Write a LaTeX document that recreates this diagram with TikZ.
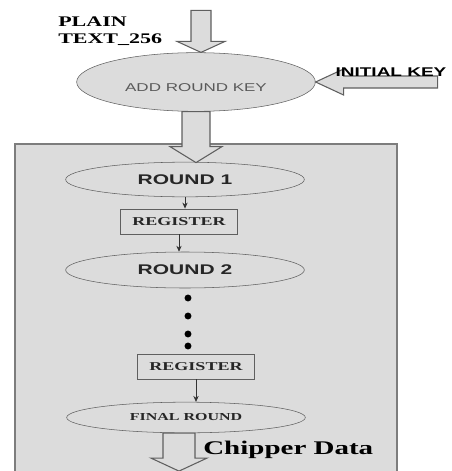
\documentclass[tikz,border=0pt]{standalone}
\usepackage{fontspec}
\setmainfont{Liberation Serif}
\setsansfont{Liberation Sans}
\usetikzlibrary{shapes.geometric,arrows.meta}
\definecolor{roundgray}{RGB}{220,220,220}
\definecolor{roundline}{RGB}{95,95,95}
\definecolor{panelline}{RGB}{125,125,125}
\newcommand{\wide}[1]{\scalebox{1.5}[1]{#1}}

\begin{document}
\begin{tikzpicture}[x=.75pt,y=-.75pt,
    stage/.style={ellipse,draw=roundline,fill=roundgray,inner sep=0pt,
      minimum width=179pt,minimum height=26pt,text=black!85,
      font=\sffamily\bfseries\fontsize{10.5}{12}\selectfont},
    regbox/.style={rectangle,draw=roundline,fill=roundgray,inner sep=0pt,
      minimum width=88pt,minimum height=19pt,text=black!85,
      font=\bfseries\fontsize{9}{10}\selectfont},
    hollow/.style={draw=roundline,fill=roundgray,line width=.8pt},
    flow/.style={-{Stealth[length=4.5pt,width=4pt]},draw=black!80,line width=.6pt}]
  \clip (0,0) rectangle (451,471);
  \draw[panelline,fill=roundgray,line width=1.5pt] (15,144) rectangle (397,490);

  \node[stage,minimum height=44pt,text=black!65,
    font=\sffamily\fontsize{8.5}{10}\selectfont] (ark) at (196,82)
    {\raisebox{-7pt}[0pt][0pt]{\wide{ADD ROUND KEY}}\hspace{7pt}};
  \node[stage] (r1) at (185,179.5) {\wide{ROUND 1}};
  \node[regbox] (reg1) at (179,221.5) {\wide{REGISTER}};
  \node[stage,minimum height=27pt] (r2) at (185,270) {\wide{ROUND 2}\hspace{30pt}};
  \node[regbox] (reg2) at (196,366.5) {\wide{REGISTER}};
  \node[stage,minimum height=23pt,font=\bfseries\fontsize{8}{9}\selectfont]
    (fin) at (186,417.5) {\wide{FINAL ROUND}\hspace{10pt}};
  \foreach \y in {298,316,334,346}
    \fill (188,\y) circle[radius=2.6pt];

  \draw[flow] (r1.south) -- (r1.south |- reg1.north);
  \draw[flow] (reg1.south) -- (reg1.south |- r2.north);
  \draw[flow] (reg2.south) -- (reg2.south |- fin.north);

  \draw[hollow] (ark.north) ++(5,0) -- ++(-24,-11) -- ++(14,0) -- ++(0,-31)
    -- ++(20,0) -- ++(0,31) -- ++(14,0) -- cycle;
  \draw[hollow] (ark.east) -- ++(28,-13) -- ++(0,7) -- ++(94,0) -- ++(0,12)
    -- ++(-94,0) -- ++(0,7) -- cycle;
  \draw[hollow] (ark.south) ++(-14,0) -- ++(0,35) -- ++(-12,0) -- ++(26,16)
    -- ++(26,-16) -- ++(-12,0) -- ++(0,-35) -- cycle;
  \draw[hollow] (fin.south) ++(-23,0) -- ++(0,25) -- ++(-12,0) -- ++(28,13)
    -- ++(28,-13) -- ++(-12,0) -- ++(0,-25) -- cycle;

  \node[font=\bfseries\fontsize{11}{13}\selectfont,align=left,anchor=west,
    inner sep=0pt] (ptxt) at (58,31) {\wide{PLAIN}\\\wide{TEXT\_256}};
  \node[font=\sffamily\bfseries\fontsize{9.5}{11}\selectfont,inner sep=0pt]
    (ikey) at (391,72) {\wide{INITIAL KEY}};
  \node[font=\bfseries\fontsize{14.5}{16}\selectfont,anchor=base west,
    inner sep=0pt] (cdata) at (203,454) {\wide{Chipper Data}};
\end{tikzpicture}
\end{document}
